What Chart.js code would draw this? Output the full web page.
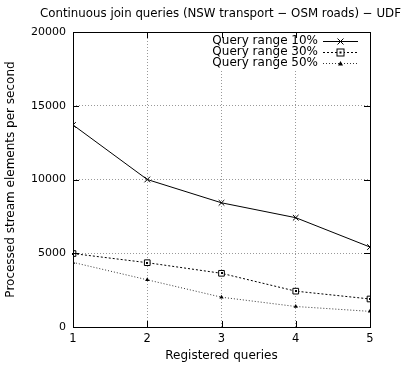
<!DOCTYPE html>
<html>
<head>
<meta charset="utf-8">
<script src="https://cdn.jsdelivr.net/npm/chart.js@4"></script>
<style>
  html, body { margin: 0; padding: 0; background: #fff; }
  #wrap { width: 403px; height: 367px; }
</style>
</head>
<body>
<div id="wrap"><canvas id="myChart" width="403" height="367"></canvas></div>
<script>
// data
const queries = [1, 2, 3, 4, 5];
const range10 = [13700, 10000, 8420, 7410, 5420];
const range30 = [4980, 4360, 3640, 2430, 1900];
const range50 = [4380, 3200, 2020, 1390, 1060];
const yTicks = [0, 5000, 10000, 15000, 20000];
const seriesNames = ["Query range 10%", "Query range 30%", "Query range 50%"];

const FONT = "'DejaVu Sans', Verdana, sans-serif";

const toXY = (arr) => arr.map((v, i) => ({ x: queries[i], y: v }));

// white patch under the key, like gnuplot's opaque key
const keyBack = {
  id: "keyBack",
  beforeDatasetsDraw(chart) {
    const { ctx } = chart;
    ctx.save();
    ctx.fillStyle = "#fff";
    ctx.fillRect(208, 35, 156, 34);
    ctx.restore();
  },
};

// gnuplot-ish frame, inward ticks, title and key
const gnuplotBits = {
  id: "gnuplotBits",
  afterDraw(chart) {
    const { ctx, chartArea: a } = chart;
    const xs = chart.scales.x, ys = chart.scales.y;
    ctx.save();
    ctx.strokeStyle = "#000";
    ctx.lineWidth = 1;
    ctx.setLineDash([]);
    // ticks
    ctx.beginPath();
    yTicks.forEach((t) => {
      const y = Math.round(ys.getPixelForValue(t)) + 0.5;
      ctx.moveTo(a.left, y); ctx.lineTo(a.left + 6, y);
      ctx.moveTo(a.right, y); ctx.lineTo(a.right - 6, y);
    });
    queries.forEach((q) => {
      const x = Math.round(xs.getPixelForValue(q)) + 0.5;
      ctx.moveTo(x, a.bottom); ctx.lineTo(x, a.bottom - 6);
      ctx.moveTo(x, a.top); ctx.lineTo(x, a.top + 6);
    });
    ctx.stroke();
    // frame
    ctx.strokeRect(Math.round(a.left) + 0.5, Math.round(a.top) + 0.5,
      Math.round(a.right - a.left), Math.round(a.bottom - a.top));

    // title
    ctx.fillStyle = "#000";
    ctx.font = "11.8px " + FONT;
    ctx.textAlign = "left";
    ctx.textBaseline = "middle";
    ctx.fillText("Continuous join queries (NSW transport \u2212 OSM roads) \u2212 UDF", 40, 14);

    // key
    ctx.font = "12px " + FONT;
    const ds = chart.data.datasets;
    ds.forEach((d, i) => {
      const y = 41 + i * 11;
      ctx.textAlign = "right";
      ctx.fillStyle = "#000";
      ctx.fillText(seriesNames[i], 318, y);
      ctx.strokeStyle = d.borderColor;
      ctx.setLineDash(d.borderDash || []);
      ctx.beginPath();
      ctx.moveTo(323, y + 0.5); ctx.lineTo(358, y + 0.5);
      ctx.stroke();
      ctx.setLineDash([]);
      // marker
      const mx = 340.5, my = y + 0.5;
      ctx.beginPath();
      if (i === 0) {
        ctx.moveTo(mx - 3, my - 3); ctx.lineTo(mx + 3, my + 3);
        ctx.moveTo(mx - 3, my + 3); ctx.lineTo(mx + 3, my - 3);
        ctx.stroke();
      } else if (i === 1) {
        ctx.fillStyle = "#fff";
        ctx.fillRect(mx - 3.5, my - 3.5, 7, 7);
        ctx.strokeStyle = "#000";
        ctx.strokeRect(mx - 3.5, my - 3.5, 7, 7);
        ctx.fillStyle = "#000";
        ctx.fillRect(mx - 1, my - 1, 2, 2);
      } else {
        ctx.fillStyle = "#000";
        ctx.moveTo(mx, my - 2.5); ctx.lineTo(mx + 2.5, my + 2); ctx.lineTo(mx - 2.5, my + 2);
        ctx.closePath();
        ctx.fill();
      }
    });
    ctx.restore();
  },
};

// small dot inside the square markers
const boxDots = {
  id: "boxDots",
  afterDatasetsDraw(chart) {
    const { ctx } = chart;
    const meta = chart.getDatasetMeta(1);
    ctx.save();
    ctx.fillStyle = "#000";
    meta.data.forEach((p) => ctx.fillRect(Math.round(p.x) - 1, Math.round(p.y) - 1, 2, 2));
    ctx.restore();
  },
};

const data = {
  datasets: [
    {
      label: seriesNames[0],
      data: toXY(range10),
      borderColor: "#000",
      backgroundColor: "#000",
      borderWidth: 1,
      pointStyle: "crossRot",
      pointRadius: 4,
      pointBorderWidth: 1,
    },
    {
      label: seriesNames[1],
      data: toXY(range30),
      borderColor: "#000",
      backgroundColor: "#fff",
      borderWidth: 1,
      borderDash: [2, 2],
      pointStyle: "rect",
      pointRadius: 4,
      pointBorderWidth: 1,
    },
    {
      label: seriesNames[2],
      data: toXY(range50),
      borderColor: "#333",
      backgroundColor: "#000",
      borderWidth: 1,
      borderDash: [1, 2],
      pointStyle: "triangle",
      pointRadius: 2.5,
      pointBorderWidth: 0,
    },
  ],
};

const config = {
  type: "line",
  data,
  options: {
    responsive: false,
    animation: false,
    layout: { padding: { left: 0, right: 33, top: 32, bottom: 0 } },
    plugins: {
      legend: { display: false },
      tooltip: { enabled: false },
      title: { display: false },
    },
    scales: {
      x: {
        type: "linear",
        min: 1,
        max: 5,
        afterFit: (s) => { s.height = 40; },
        afterBuildTicks: (s) => { s.ticks = queries.map((v) => ({ value: v })); },
        ticks: { color: "#000", font: { family: FONT, size: 11.5 }, padding: 5 },
        grid: { color: "#999", drawTicks: false, lineWidth: 1 },
        border: { display: false, dash: [1, 2] },
        title: {
          display: true,
          text: "Registered queries",
          color: "#000",
          font: { family: FONT, size: 12 },
          padding: { top: 0, bottom: 4 },
        },
      },
      y: {
        min: 0,
        max: 20000,
        afterFit: (s) => { s.width = 73; },
        afterBuildTicks: (s) => { s.ticks = yTicks.map((v) => ({ value: v })); },
        ticks: {
          color: "#000",
          font: { family: FONT, size: 11 },
          padding: 7,
          callback: (v) => String(v),
        },
        grid: { color: "#999", drawTicks: false, lineWidth: 1 },
        border: { display: false, dash: [1, 2] },
        title: {
          display: true,
          text: "Processed stream elements per second",
          color: "#000",
          font: { family: FONT, size: 12 },
          padding: { top: 4, bottom: 0 },
        },
      },
    },
  },
  plugins: [keyBack, boxDots, gnuplotBits],
};

const myChart = new Chart(document.getElementById("myChart"), config);
</script>
</body>
</html>
